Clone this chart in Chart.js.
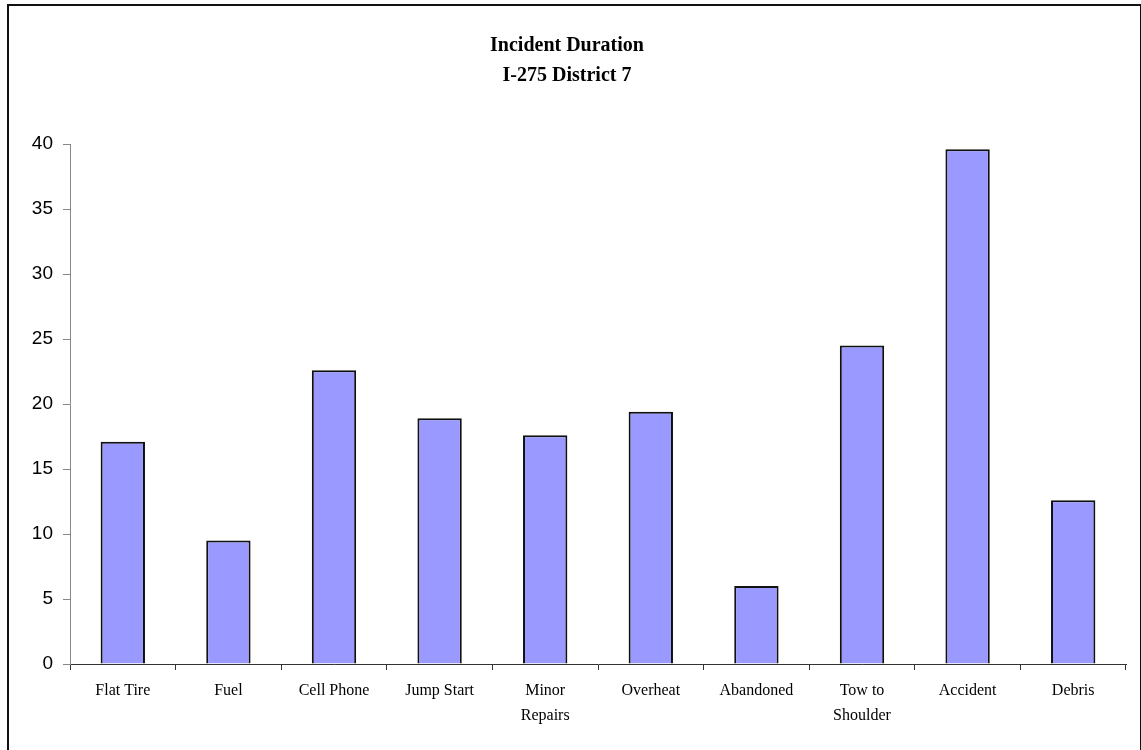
<!DOCTYPE html>
<html>
<head>
<meta charset="utf-8">
<script src="https://cdn.jsdelivr.net/npm/chart.js@4/dist/chart.umd.min.js"></script>
<style>
  html, body { margin: 0; padding: 0; background: #fff; overflow: hidden; }
  #frame {
    position: absolute; left: 7px; top: 4px; width: 1131px; height: 780px;
    border: 2px solid #111; pointer-events: none;
  }
  canvas { position: absolute; left: 0; top: 0; }
</style>
</head>
<body>
<canvas id="chart" width="1141" height="750"></canvas>
<div id="frame"></div>
<script>
const titleLines = ["Incident Duration", "I-275 District 7"];

const categories = [
  "Flat Tire", ["Fuel"], "Cell Phone", "Jump Start", ["Minor", "Repairs"],
  "Overheat", "Abandoned", ["Tow to", "Shoulder"], "Accident", "Debris",
];

const durations = [17.1, 9.5, 22.6, 18.9, 17.6, 19.4, 6.0, 24.5, 39.6, 12.6];

const yMin = 0;
const yMax = 40;
const yStep = 5;

const ctx = document.getElementById("chart").getContext("2d");
new Chart(ctx, {
  type: "bar",
  data: {
    labels: categories,
    datasets: [
      {
        data: durations,
        backgroundColor: "#9999FF",
        borderColor: "#111",
        borderWidth: 2,
        barPercentage: 0.42,
        categoryPercentage: 1,
      },
    ],
  },
  options: {
    responsive: false,
    animation: false,
    layout: { padding: { left: 8, right: 15, top: 0, bottom: 0 } },
    plugins: {
      legend: { display: false },
      tooltip: { enabled: false },
      title: {
        display: true,
        text: titleLines,
        color: "#000",
        font: { family: "'Liberation Serif', 'Times New Roman', serif", size: 20, weight: "bold", lineHeight: 1.5 },
        padding: { top: 31, bottom: 53 },
      },
    },
    scales: {
      x: {
        afterFit: (s) => { s.height = 86; },
        border: { color: "#333", width: 1 },
        grid: { drawOnChartArea: false, drawTicks: true, tickLength: 6, color: "#333", offset: true },
        ticks: {
          color: "#000",
          maxRotation: 0,
          autoSkip: false,
          padding: 8,
          font: { family: "'Liberation Serif', 'Times New Roman', serif", size: 16, lineHeight: 1.56 },
        },
      },
      y: {
        min: yMin,
        max: yMax,
        afterFit: (s) => { s.width = 62; },
        border: { color: "#888", width: 1 },
        grid: { drawOnChartArea: false, drawTicks: true, tickLength: 7, color: "#888" },
        ticks: {
          stepSize: yStep,
          color: "#000",
          padding: 10,
          font: { family: "'Liberation Sans', Arial, sans-serif", size: 19 },
        },
      },
    },
  },
});
</script>
</body>
</html>
